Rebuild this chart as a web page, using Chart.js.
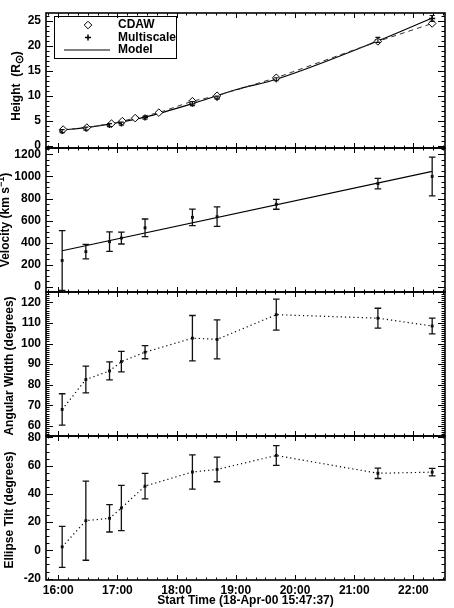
<!DOCTYPE html>
<html><head><meta charset="utf-8">
<script src="https://cdn.jsdelivr.net/npm/chart.js@4/dist/chart.umd.min.js"></script>
<style>html,body{margin:0;padding:0;background:#fff;overflow:hidden}#wrap{position:relative;width:454px;height:608px}canvas{display:block}</style>
</head><body><div id="wrap"><canvas id="c" width="454" height="608"></canvas></div>
<script>
// ---- data ----
const startTime = '15:47:37';
const endTime = '22:32';
const timeTicks = ['16:00','17:00','18:00','19:00','20:00','21:00','22:00'];
const msTimes = ['16:04','16:28','16:52','17:04','17:28','18:16','18:41','19:41','21:24','22:19'];
const cdawTimes = ['16:05','16:29','16:54','17:05','17:18','17:42','18:16','18:41','19:41','21:24','22:19'];
const cdawHeight = [3.2,3.6,4.4,4.9,5.5,6.6,8.9,10.0,13.6,20.9,24.5];
const msHeight = [2.9,3.4,4.1,4.4,5.6,8.4,9.6,13.3,21.2,25.5];
const msHeightErr = [0.3,0.3,0.3,0.3,0.3,0.4,0.3,0.3,0.5,0.6];
const modelTimes = ['16:04','16:28','16:52','17:28','18:16','19:00','19:41','21:24','22:19'];
const modelHeight = [3.1,3.6,4.3,5.7,8.4,11.2,13.3,21.0,25.6];
const velocity = [240,320,410,443,535,630,636,748,935,1000];
const velocityErr = [270,65,88,54,80,75,88,45,47,175];
const modelVelTimes = ['16:04','22:19'];
const modelVelocity = [328,1046];
const angWidth = [68,82.5,86.7,91.2,95.8,102.6,102,114,112.3,108.5];
const angWidthErr = [7.6,6.5,4.4,5,3.2,11,9.5,7.5,4.8,3.8];
const tilt = [2.5,21,22.7,30,45.5,55.5,57.3,67.2,54.6,55.4];
const tiltErr = [14.5,28,9.7,16,9,12.2,8.7,7,3.7,2.7];
const heightTicks = [0,5,10,15,20,25];
const velocityTicks = [0,200,400,600,800,1000,1200];
const widthTicks = [60,70,80,90,100,110,120];
const tiltTicks = [-20,0,20,40,60,80];

const toH = s => { const p = s.split(':').map(Number); return p[0] + p[1]/60 + (p[2]||0)/3600; };
const pts = (times, vals) => times.map((t,i)=>({x: toH(t), y: vals[i]}));

const FONT = 'Liberation Sans';
Chart.defaults.font.family = FONT;
Chart.defaults.font.size = 12;
Chart.defaults.font.weight = 'bold';
Chart.defaults.color = '#000';

const panels = [
  {id:'yH', min:-0.5, max:26.6, ticks:heightTicks, minor:1, w:135,
   title:[['Height  (R',12,0],['\u2299',11,3],[')',12,0]], tx:17, ty:86},
  {id:'yV', min:-45, max:1257, ticks:velocityTicks, minor:50, w:144,
   title:[['Velocity (km s',12,0],['\u22121',9,-4],[')',12,0]], tx:6, ty:220},
  {id:'yW', min:55.1, max:125, ticks:widthTicks, minor:1, w:144,
   title:[['Angular Width (degrees)',12,0]], tx:10, ty:366},
  {id:'yT', min:-21, max:81, ticks:tiltTicks, minor:5, w:144,
   title:[['Ellipse Tilt (degrees)',12,0]], tx:10, ty:510}
];

const scales = {
  x: {type:'linear', position:'bottom', min:toH(startTime), max:toH(endTime),
      grid:{display:false, drawTicks:false}, border:{display:false},
      ticks:{padding:3, maxRotation:0, autoSkip:false, callback:(v,i)=>timeTicks[i]},
      afterBuildTicks: s => { s.ticks = timeTicks.map(t=>({value:toH(t)})); },
      afterFit: s => { s.height = 28; }}
};
// stacked boxes are laid out bottom-up, so add the lowest panel first
panels.slice().reverse().forEach(p => {
  scales[p.id] = {type:'linear', position:'left', stack:'panels', stackWeight:p.w,
    min:p.min, max:p.max, grid:{display:false, drawTicks:false}, border:{display:false},
    ticks:{padding:5, autoSkip:false, callback: v => String(v)},
    afterBuildTicks: s => { s.ticks = p.ticks.map(v=>({value:v})); },
    afterFit: s => { s.width = 46; }};
});

const errorBars = {
  id:'errorBars',
  afterDatasetsDraw(chart){
    const ctx = chart.ctx;
    chart.data.datasets.forEach((ds, di) => {
      if (!ds.errors) return;
      const meta = chart.getDatasetMeta(di);
      const ys = chart.scales[ds.yAxisID];
      ctx.save();
      ctx.strokeStyle = '#111';
      ctx.lineWidth = ds.errWidth || 1.3;
      const cap = ds.capHalf || 3.3;
      meta.data.forEach((pt, i) => {
        const v = ds.data[i].y, e = ds.errors[i];
        const yt = ys.getPixelForValue(v + e), yb = ys.getPixelForValue(v - e);
        const x = pt.x;
        ctx.beginPath();
        ctx.moveTo(x, yt); ctx.lineTo(x, yb);
        ctx.moveTo(x - cap, yt); ctx.lineTo(x + cap, yt);
        ctx.moveTo(x - cap, yb); ctx.lineTo(x + cap, yb);
        ctx.stroke();
      });
      ctx.restore();
    });
  }
};

function drawRich(ctx, segs, cx, cy){
  ctx.save();
  ctx.translate(cx, cy);
  ctx.rotate(-Math.PI/2);
  ctx.textBaseline = 'middle';
  ctx.fillStyle = '#000';
  let total = 0;
  segs.forEach(s => { ctx.font = 'bold ' + s[1] + 'px "' + FONT + '"'; total += ctx.measureText(s[0]).width; });
  let x = -total/2;
  segs.forEach(s => { ctx.font = 'bold ' + s[1] + 'px "' + FONT + '"'; ctx.fillText(s[0], x, s[2]); x += ctx.measureText(s[0]).width; });
  ctx.restore();
}

const frames = {
  id:'frames',
  afterDraw(chart){
    const ctx = chart.ctx, ca = chart.chartArea, xs = chart.scales.x;
    ctx.save();
    ctx.strokeStyle = '#000';
    panels.forEach(p => {
      const s = chart.scales[p.id];
      const top = s.top, bot = s.bottom;
      ctx.lineWidth = 1;
      ctx.beginPath();
      const m0 = Math.ceil(p.min / p.minor) * p.minor;
      for (let v = m0; v <= p.max + 1e-9; v += p.minor) {
        const y = Math.round(s.getPixelForValue(v)) + 0.5;
        const major = p.ticks.some(t => Math.abs(t - v) < 1e-6);
        const L = major ? 7 : 3.5;
        ctx.moveTo(ca.left, y); ctx.lineTo(ca.left + L, y);
        ctx.moveTo(ca.right, y); ctx.lineTo(ca.right - L, y);
      }
      const x0 = Math.ceil(xs.min * 6) / 6;
      for (let h = x0; h <= xs.max + 1e-9; h += 1/6) {
        const x = Math.round(xs.getPixelForValue(h)) + 0.5;
        const major = Math.abs(h - Math.round(h)) < 1e-6;
        const L = major ? 5 : 2.5;
        ctx.moveTo(x, top); ctx.lineTo(x, top + L);
        ctx.moveTo(x, bot); ctx.lineTo(x, bot - L);
      }
      ctx.stroke();
      ctx.lineWidth = 1.6;
      ctx.strokeRect(ca.left, top, ca.right - ca.left, bot - top);
      drawRich(ctx, p.title, p.tx, p.ty);
    });
    ctx.fillStyle = '#000';
    ctx.font = 'bold 12px "' + FONT + '"';
    ctx.textAlign = 'center';
    ctx.textBaseline = 'alphabetic';
    ctx.fillText('Start Time (18-Apr-00 ' + startTime + ')', (ca.left + ca.right)/2, 604);
    // legend
    ctx.lineWidth = 1;
    ctx.strokeRect(54.5, 16.5, 122, 42);
    ctx.textAlign = 'left';
    ctx.textBaseline = 'middle';
    const lx = 88, ly = [25, 37.5, 50];
    ctx.beginPath();
    ctx.moveTo(lx, ly[0]-3.8); ctx.lineTo(lx+3.8, ly[0]); ctx.lineTo(lx, ly[0]+3.8); ctx.lineTo(lx-3.8, ly[0]); ctx.closePath();
    ctx.stroke();
    ctx.beginPath();
    ctx.lineWidth = 1.5;
    ctx.moveTo(lx-3, ly[1]); ctx.lineTo(lx+3, ly[1]);
    ctx.moveTo(lx, ly[1]-3); ctx.lineTo(lx, ly[1]+3);
    ctx.stroke();
    ctx.beginPath();
    ctx.lineWidth = 1.2;
    ctx.moveTo(64, ly[2]); ctx.lineTo(110, ly[2]);
    ctx.stroke();
    ['CDAW','Multiscale','Model'].forEach((t,i) => ctx.fillText(t, 118, ly[i]));
    ctx.restore();
  }
};

new Chart(document.getElementById('c'), {
  type:'line',
  data:{datasets:[
    {label:'CDAW', yAxisID:'yH', data:pts(cdawTimes, cdawHeight), borderColor:'#333', borderWidth:1,
     borderDash:[5,4], pointStyle:'rectRot', pointRadius:3.8, pointBackgroundColor:'#fff',
     pointBorderColor:'#000', pointBorderWidth:1},
    {label:'Model', yAxisID:'yH', data:pts(modelTimes, modelHeight), borderColor:'#000', borderWidth:1.2,
     pointRadius:0, cubicInterpolationMode:'monotone'},
    {label:'Multiscale', yAxisID:'yH', data:pts(msTimes, msHeight), showLine:false, pointStyle:'cross',
     pointRadius:3, pointBorderColor:'#000', pointBorderWidth:1.5, errors:msHeightErr, capHalf:2.5, errWidth:1.2},
    {label:'Velocity', yAxisID:'yV', data:pts(msTimes, velocity), showLine:false, pointStyle:'rect',
     pointRadius:2, pointBackgroundColor:'#000', pointBorderColor:'#000', pointBorderWidth:0, errors:velocityErr},
    {label:'Velocity model', yAxisID:'yV', data:pts(modelVelTimes, modelVelocity), borderColor:'#000',
     borderWidth:1.2, pointRadius:0},
    {label:'Angular Width', yAxisID:'yW', data:pts(msTimes, angWidth), borderColor:'#000', borderWidth:1.2,
     borderDash:[1.2,3], pointStyle:'rect', pointRadius:2, pointBackgroundColor:'#000', pointBorderWidth:0,
     errors:angWidthErr},
    {label:'Ellipse Tilt', yAxisID:'yT', data:pts(msTimes, tilt), borderColor:'#000', borderWidth:1.2,
     borderDash:[1.2,3], pointStyle:'rect', pointRadius:2, pointBackgroundColor:'#000', pointBorderWidth:0,
     errors:tiltErr}
  ]},
  options:{
    responsive:false, animation:false, devicePixelRatio:1,
    layout:{padding:{top:13, right:9, left:0, bottom:0}},
    plugins:{legend:{display:false}, tooltip:{enabled:false}},
    scales
  },
  plugins:[errorBars, frames]
});
</script></body></html>
